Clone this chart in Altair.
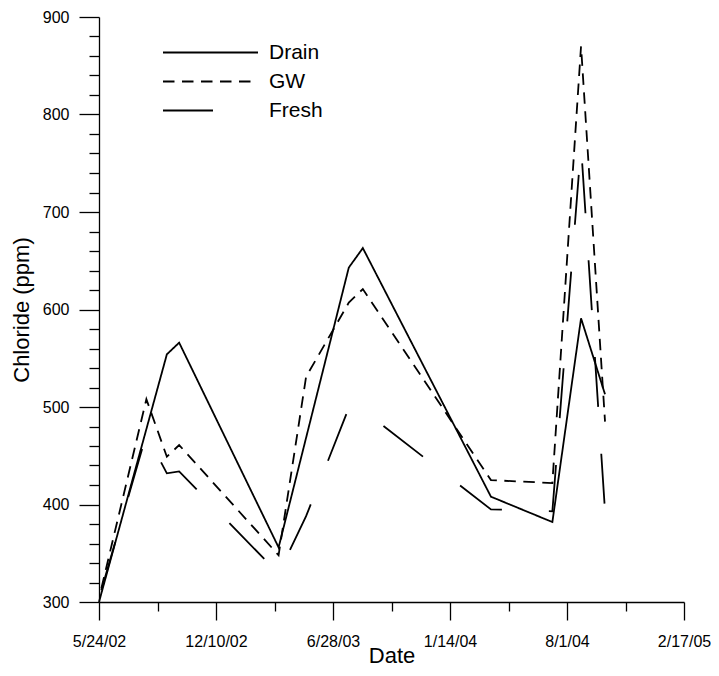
import altair as alt
import pandas as pd

# ---- data ----
series_names = ["Drain", "GW", "Fresh"]

drain_dates = ["2002-05-24", "2002-09-17", "2002-10-08", "2003-03-27", "2003-07-25",
               "2003-08-18", "2004-03-24", "2004-07-07", "2004-08-25", "2004-10-05"]
drain_vals = [300, 554, 566, 356, 643, 663, 408, 382, 591, 513]

gw_dates = ["2002-05-28", "2002-08-13", "2002-09-17", "2002-10-08", "2003-03-27", "2003-05-13",
            "2003-07-25", "2003-08-18", "2004-03-24", "2004-07-07", "2004-08-25", "2004-10-05"]
gw_vals = [314, 508, 449, 461, 348, 531, 607, 621, 425, 422, 870, 485]

fresh_dates = ["2002-05-28", "2002-08-13", "2002-09-17", "2002-10-08", "2003-03-27", "2003-05-13",
               "2003-07-25", "2003-08-18", "2004-03-24", "2004-07-07", "2004-08-25", "2004-10-05"]
fresh_vals = [312, 472, 432, 434, 329, 388, 499, 497, 395, 393, 768, 393]

x_ticks = ["2002-05-24", "2002-09-01", "2002-12-10", "2003-03-20", "2003-06-28", "2003-10-06",
           "2004-01-14", "2004-04-23", "2004-08-01", "2004-11-09", "2005-02-17"]
y_ticks = list(range(300, 901, 20))

rows = []
for name, ds, vs in [("Drain", drain_dates, drain_vals),
                     ("GW", gw_dates, gw_vals),
                     ("Fresh", fresh_dates, fresh_vals)]:
    for d, v in zip(ds, vs):
        rows.append({"series": name, "date": d, "value": v})
df = pd.DataFrame(rows)


def dt(s):
    y, m, d = (int(p) for p in s.split("-"))
    return alt.DateTime(year=y, month=m, date=d, utc=True)


FONT = "Liberation Sans"
MAJOR_X = "round((datum.value - utc(2002,4,24)) / 864e5) % 200 === 0"
MAJOR_Y = "datum.value % 100 === 0"

W, H = 585, 585

x_axis = alt.Axis(
    values=[dt(s) for s in x_ticks],
    format="%-m/%-d/%y",
    labelExpr=f"{MAJOR_X} ? datum.label : ''",
    tickSize={"condition": {"test": MAJOR_X, "value": 18}, "value": 9},
    labelPadding=13,
    labelFlush=False,
    labelOverlap=False,
    grid=False,
    title="Date",
    titleX=W / 2,
    titleY=60,
    titleBaseline="alphabetic",
    titleAlign="center",
)

y_axis = alt.Axis(
    values=y_ticks,
    labelExpr=f"{MAJOR_Y} ? datum.label : ''",
    tickSize={"condition": {"test": MAJOR_Y, "value": 20}, "value": 10},
    labelPadding=10,
    labelOverlap=False,
    labelFlush=False,
    grid=False,
    title="Chloride (ppm)",
    titleAngle=270,
    titleX=-71,
    titleY=H / 2,
    titleBaseline="alphabetic",
    titleAlign="center",
)

legend = alt.Legend(
    title=None,
    orient="none",
    legendX=63,
    legendY=21,
    symbolType="stroke",
    symbolSize=9025,
    symbolStrokeWidth=1.8,
    symbolStrokeColor="black",
    labelFont=FONT,
    labelFontSize=21,
    labelColor="black",
    labelOffset=10,
    clipHeight=29,
    rowPadding=0,
    padding=0,
)

chart = (
    alt.Chart(df)
    .mark_line(color="black", strokeWidth=1.8)
    .encode(
        x=alt.X("date:T", axis=x_axis,
                scale=alt.Scale(type="utc", domain=[dt("2002-05-24"), dt("2005-02-17")])),
        y=alt.Y("value:Q", axis=y_axis, scale=alt.Scale(domain=[300, 900], nice=False, zero=False)),
        strokeDash=alt.StrokeDash(
            "series:N",
            scale=alt.Scale(domain=series_names, range=[[1, 0], [11.5, 7.5], [50, 47]]),
            legend=legend,
        ),
    )
    .properties(
        width=W,
        height=H,
        padding={"left": 91, "top": 9, "right": 27, "bottom": 66},
        autosize=alt.AutoSizeParams(type="none"),
        background="white",
    )
    .configure_view(stroke=None)
    .configure_axis(
        domainColor="black",
        domainWidth=1.3,
        tickColor="black",
        tickWidth=1.3,
        labelColor="black",
        labelFont=FONT,
        labelFontSize=16,
        titleFont=FONT,
        titleFontSize=22,
        titleFontWeight="normal",
        titleColor="black",
    )
)

chart.save("out.html", embed_options={"renderer": "svg", "actions": False})
